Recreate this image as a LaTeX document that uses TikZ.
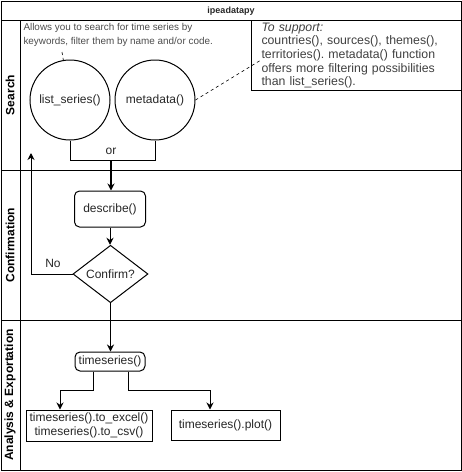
\documentclass[tikz,border=0pt]{standalone}
\usepackage{fontspec}
\setmainfont{Liberation Sans}
\usetikzlibrary{shapes.geometric, arrows.meta}
\frenchspacing

\begin{document}
\begin{tikzpicture}[x=1pt,y=-1pt,line width=1pt,
  every node/.style={text=black!85, font=\fontsize{12}{14}\selectfont},
  fn/.style={draw, rounded corners=5pt, align=center, inner sep=0},
  box/.style={draw, align=center, inner sep=0},
  lane/.style={rotate=90, font=\bfseries\fontsize{12}{14}\selectfont, text=black},
  arr/.style={-{Stealth[length=7pt,width=7pt]}}]
\useasboundingbox (0,0) rectangle (462,472);
\draw (1,1) rectangle (461,470);
\draw (1,20) -- (461,20);
\draw (1,170) -- (461,170);
\draw (1,320) -- (461,320);
\draw (20,20) -- (20,470);
\node[font=\bfseries\fontsize{9}{11}\selectfont] (T) at (231,11) {ipeadatapy};
\node[lane] (L1) at (10,95) {Search};
\node[lane] (L2) at (10,245) {Confirmation};
\node[lane] (L3) at (10,395) {Analysis \& Exportation};

\node[anchor=north west, align=left, inner sep=0, text=black!70,
  font=\fontsize{9.9}{14}\selectfont] (N1) at (23,23)
  {Allows you to search for time series by\\keywords, filter them by name and/or code.};
\node[draw, anchor=north west, align=left, text width=195pt, inner xsep=10pt,
  inner ysep=0, minimum height=70pt, text=black!75,
  font=\fontsize{12.3}{13.7}\selectfont] (N2) at (251,20)
  {\textit{To support:}\\countries(), sources(), themes(),\\territories(). metadata() function\\offers more filtering possibilities\\than list\_series().};

\node[circle, draw, minimum size=80pt, inner sep=0] (A) at (70,100) {list\_series()};
\node[circle, draw, minimum size=80pt, inner sep=0] (B) at (155,100) {metadata()};
\coordinate (a1) at (62,52);
\coordinate (a2) at (261,60);
\draw[dashed, line width=0.6pt] (a1) -- (A);
\draw[dashed, line width=0.6pt] (B.east) -- (a2);
\coordinate (C) at (111,160);
\draw (A.south) -- (A.south |- C) -- (B.south |- C) -- (B.south);
\node (or) at (111,151) {or};

\node[fn, minimum width=71pt, minimum height=36pt] (D) at (110,209) {describe()};
\node[diamond, draw, minimum width=75pt, minimum height=54pt, inner sep=0] (E) at (110.5,274) {Confirm?};
\draw[arr, line width=1.5pt] (C) -- (C |- D.north);
\draw[arr] (D) -- (E.north -| D);
\coordinate (F) at (31,153);
\draw[arr] (E.west) -| (F);
\node (no) at (53,263) {No};

\node[fn, minimum width=70pt, minimum height=19pt] (G) at (110,361.5) {timeseries()};
\draw[arr] (E.south) -- (G.north -| E.south);
\node[box, minimum width=126pt, minimum height=31pt] (H) at (89,425.5)
  {timeseries().to\_excel()\\timeseries().to\_csv()};
\node[box, minimum width=109pt, minimum height=30pt] (I) at (225.5,425) {timeseries().plot()};
\draw[arr] ([xshift=-17pt]G.south) -- ++(0,19) -| ([xshift=-29pt]H.north);
\draw[arr] ([xshift=18pt]G.south) -- ++(0,19) -| ([xshift=-15.5pt]I.north);
\end{tikzpicture}
\end{document}
